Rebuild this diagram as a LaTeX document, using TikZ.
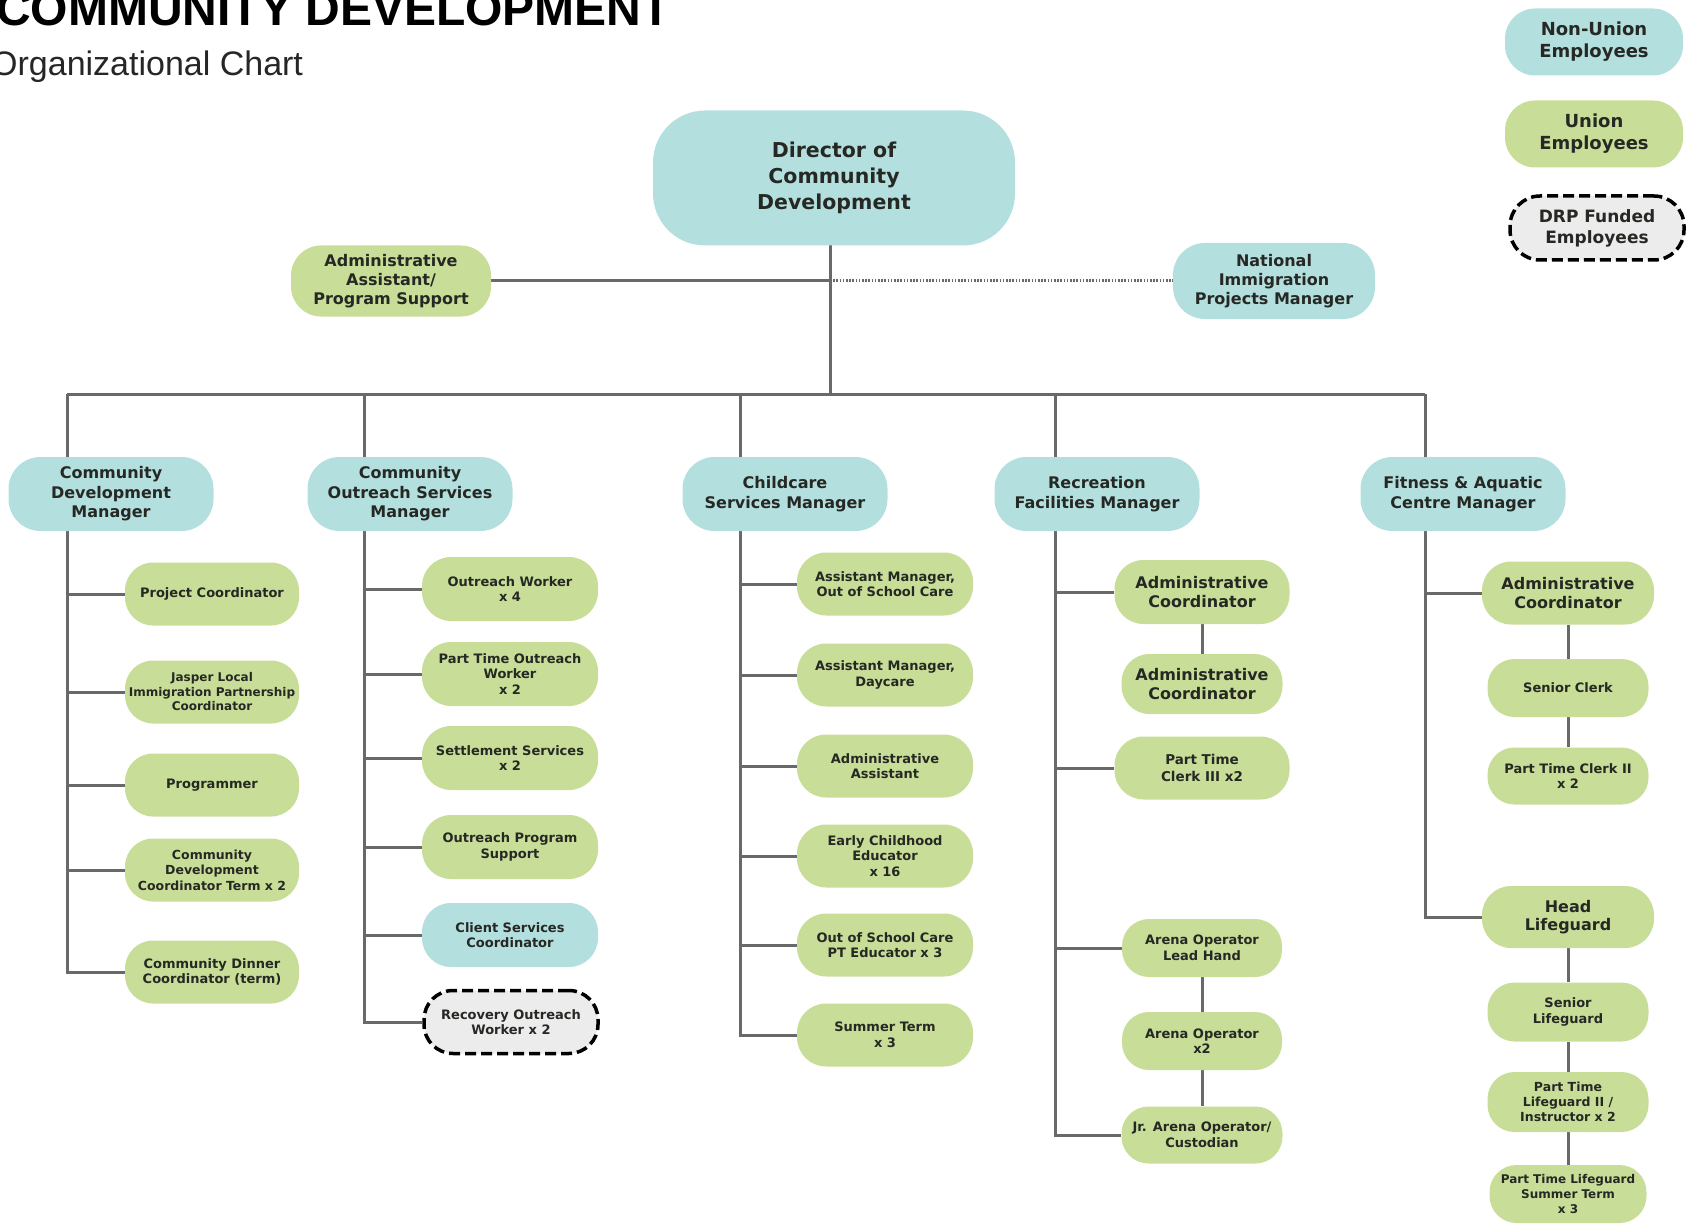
\documentclass[tikz,border=0pt]{standalone}
\usepackage{fontspec}
\setmainfont{DejaVu Sans}
\newfontfamily\arialf{Liberation Sans}
\usetikzlibrary{backgrounds}
\definecolor{bluef}{RGB}{180,223,223}
\definecolor{greenf}{RGB}{200,222,152}
\definecolor{grayf}{RGB}{236,236,236}
\definecolor{linec}{RGB}{105,105,105}
\definecolor{txt}{RGB}{38,40,36}
\newcommand\myfs[2]{\fontsize{#1}{#2}\selectfont}
\tikzset{
  pill/.style={rectangle, rounded corners=#1, align=center, inner sep=0pt, text=txt},
  nu/.style={fill=bluef, draw=none},
  un/.style={fill=greenf, draw=none},
  drp/.style={fill=grayf, draw=black, line width=3.5pt, dash pattern=on 11pt off 5pt},
  sz/.style 2 args={minimum width=#1pt, minimum height=#2pt},
  sm/.style={font=\bfseries\myfs{13}{15.5}},
  big/.style={font=\bfseries\myfs{16}{18.5}},
  mgr/.style={pill=32pt, nu, sz={205}{74}, font=\bfseries\myfs{16}{19.5}},
  conn/.style={draw=linec, line width=3pt},
  dotl/.style={draw=linec, line width=3pt, dash pattern=on 1.6pt off 1.6pt},
}
\begin{document}
\begin{tikzpicture}[x=1pt,y=-1pt]
\useasboundingbox (0,0) rectangle (1690,1225);
% titles
\node[anchor=base west, inner sep=0pt, font=\arialf\bfseries\myfs{48}{52}, text=black] (title) at (-4,26) {COMMUNITY DEVELOPMENT};
\node[anchor=base west, inner sep=0pt, font=\arialf\myfs{34}{38}, text=black!85] (subtitle) at (-9,76) {Organizational Chart};
% legend
\node[pill=30pt, nu, sz={178}{67}, font=\bfseries\myfs{18}{22}] (lnu) at (1594,42) {Non-Union\\Employees};
\node[pill=30pt, un, sz={178}{67}, font=\bfseries\myfs{18}{22}] (lun) at (1594,134) {Union\\Employees};
\node[pill=30pt, drp, sz={174}{64}, font=\bfseries\myfs{17}{21}] (ldrp) at (1597,228) {DRP Funded\\Employees};
% top
\node[pill=52pt, nu, sz={362}{135}, font=\bfseries\myfs{20.5}{26}] (dir) at (834,178) {Director of\\Community\\Development};
\node[pill=30pt, un, sz={200}{71}, font=\bfseries\myfs{16}{19}] (aa) at (391,281) {Administrative\\Assistant/\\Program Support};
\node[pill=32pt, nu, sz={202}{76}, font=\bfseries\myfs{16}{19}] (nat) at (1274,281) {National\\Immigration\\Projects Manager};
% managers
\node[mgr] (cdm) at (111,494) {Community\\Development\\Manager};
\node[mgr] (cosm) at (410,494) {Community\\Outreach Services\\Manager};
\node[mgr] (csm) at (785,494) {Childcare\\Services Manager};
\node[mgr] (rfm) at (1097,494) {Recreation\\Facilities Manager};
\node[mgr] (fam) at (1463,494) {Fitness \& Aquatic\\Centre Manager};
% column 1
\node[pill=28pt, un, sz={174}{63}, sm] (pc) at (212,594) {Project Coordinator};
\node[pill=28pt, un, sz={174}{63}, font=\bfseries\myfs{12}{14.5}] (jl) at (212,692) {Jasper Local\\Immigration Partnership\\Coordinator};
\node[pill=28pt, un, sz={174}{63}, sm] (prog) at (212,785) {Programmer};
\node[pill=28pt, un, sz={174}{63}, font=\bfseries\myfs{12.5}{15.5}] (cdc) at (212,870) {Community\\Development\\Coordinator Term x 2};
\node[pill=28pt, un, sz={174}{63}, sm] (cdd) at (212,972) {Community Dinner\\Coordinator (term)};
% column 2
\node[pill=29pt, un, sz={176}{64}, sm] (ow) at (510,589) {Outreach Worker\\x 4};
\node[pill=29pt, un, sz={176}{64}, sm] (ptow) at (510,674) {Part Time Outreach\\Worker\\x 2};
\node[pill=29pt, un, sz={176}{64}, sm] (ss) at (510,758) {Settlement Services\\x 2};
\node[pill=29pt, un, sz={176}{64}, sm] (ops) at (510,847) {Outreach Program\\Support};
\node[pill=29pt, nu, sz={176}{64}, sm] (csc) at (510,935) {Client Services\\Coordinator};
\node[pill=29pt, drp, sz={174}{63}, sm] (row) at (511,1022) {Recovery Outreach\\Worker x 2};
% column 3
\node[pill=29pt, un, sz={176}{63}, sm] (am1) at (885,584) {Assistant Manager,\\Out of School Care};
\node[pill=29pt, un, sz={176}{63}, sm] (am2) at (885,675) {Assistant Manager,\\Daycare};
\node[pill=29pt, un, sz={176}{63}, sm] (adm) at (885,766) {Administrative\\Assistant};
\node[pill=29pt, un, sz={176}{63}, sm] (ece) at (885,856) {Early Childhood\\Educator\\x 16};
\node[pill=29pt, un, sz={176}{63}, sm] (oos) at (885,945) {Out of School Care\\PT Educator x 3};
\node[pill=29pt, un, sz={176}{63}, sm] (st) at (885,1035) {Summer Term\\x 3};
% column 4
\node[pill=29pt, un, sz={175}{64}, big] (rac1) at (1202,592) {Administrative\\Coordinator};
\node[pill=28pt, un, sz={161}{60}, big] (rac2) at (1202,684) {Administrative\\Coordinator};
\node[pill=29pt, un, sz={175}{63}, font=\bfseries\myfs{13.5}{16.5}] (ptc) at (1202,768) {Part Time\\Clerk III x2};
\node[pill=27pt, un, sz={160}{58}, sm] (aol) at (1202,948) {Arena Operator\\Lead Hand};
\node[pill=27pt, un, sz={160}{58}, sm] (ao2) at (1202,1041) {Arena Operator\\x2};
\node[pill=27pt, un, sz={161}{57}, sm] (jr) at (1202,1135) {Jr. Arena Operator/\\Custodian};
% column 5
\node[pill=29pt, un, sz={172}{63}, big] (fac1) at (1568,593) {Administrative\\Coordinator};
\node[pill=27pt, un, sz={161}{58}, sm] (sc) at (1568,688) {Senior Clerk};
\node[pill=27pt, un, sz={161}{57}, sm] (ptc2) at (1568,776) {Part Time Clerk II\\x 2};
\node[pill=29pt, un, sz={172}{62}, big] (hl) at (1568,917) {Head\\Lifeguard};
\node[pill=27pt, un, sz={161}{59}, sm] (sl) at (1568,1012) {Senior\\Lifeguard};
\node[pill=27pt, un, sz={161}{60}, font=\bfseries\myfs{12.5}{15}] (ptl) at (1568,1102) {Part Time\\Lifeguard II /\\Instructor x 2};
\node[pill=27pt, un, sz={157}{58}, font=\bfseries\myfs{12}{15}] (pts) at (1568,1194) {Part Time Lifeguard\\Summer Term\\x 3};
% junction coordinates
\coordinate (bd) at (830,394);
\coordinate (b1) at (67,394);
\coordinate (b2) at (364,394);
\coordinate (b3) at (740,394);
\coordinate (b4) at (1055,394);
\coordinate (b5) at (1425,394);
\coordinate (dt) at (830,245);
\coordinate (ja) at (830,281);
\begin{scope}[on background layer]
\draw[conn] (dt) -- (bd);
\draw[conn] (aa.east) -- (ja);
\draw[dotl] (ja) -- (nat.west);
\draw[conn] (b1) -- (b5);
% column 1
\draw[conn] (b1) |- (cdd.west);
\foreach \n in {pc,jl,prog,cdc} \draw[conn] (b1 |- \n.west) -- (\n.west);
% column 2
\draw[conn] (b2) |- (row.west);
\foreach \n in {ow,ptow,ss,ops,csc} \draw[conn] (b2 |- \n.west) -- (\n.west);
% column 3
\draw[conn] (b3) |- (st.west);
\foreach \n in {am1,am2,adm,ece,oos} \draw[conn] (b3 |- \n.west) -- (\n.west);
% column 4
\draw[conn] (b4) |- (jr.west);
\foreach \n in {rac1,ptc,aol} \draw[conn] (b4 |- \n.west) -- (\n.west);
\draw[conn] (rac1.south) -- (rac2.north);
\draw[conn] (aol.south) -- (ao2.north);
\draw[conn] (ao2.south) -- (jr.north);
% column 5
\draw[conn] (b5) |- (hl.west);
\draw[conn] (b5 |- fac1.west) -- (fac1.west);
\draw[conn] (fac1.south) -- (sc.north);
\draw[conn] (sc.south) -- (ptc2.north);
\draw[conn] (hl.south) -- (sl.north);
\draw[conn] (sl.south) -- (ptl.north);
\draw[conn] (ptl.south) -- (pts.north);
\end{scope}
\end{tikzpicture}
\end{document}
